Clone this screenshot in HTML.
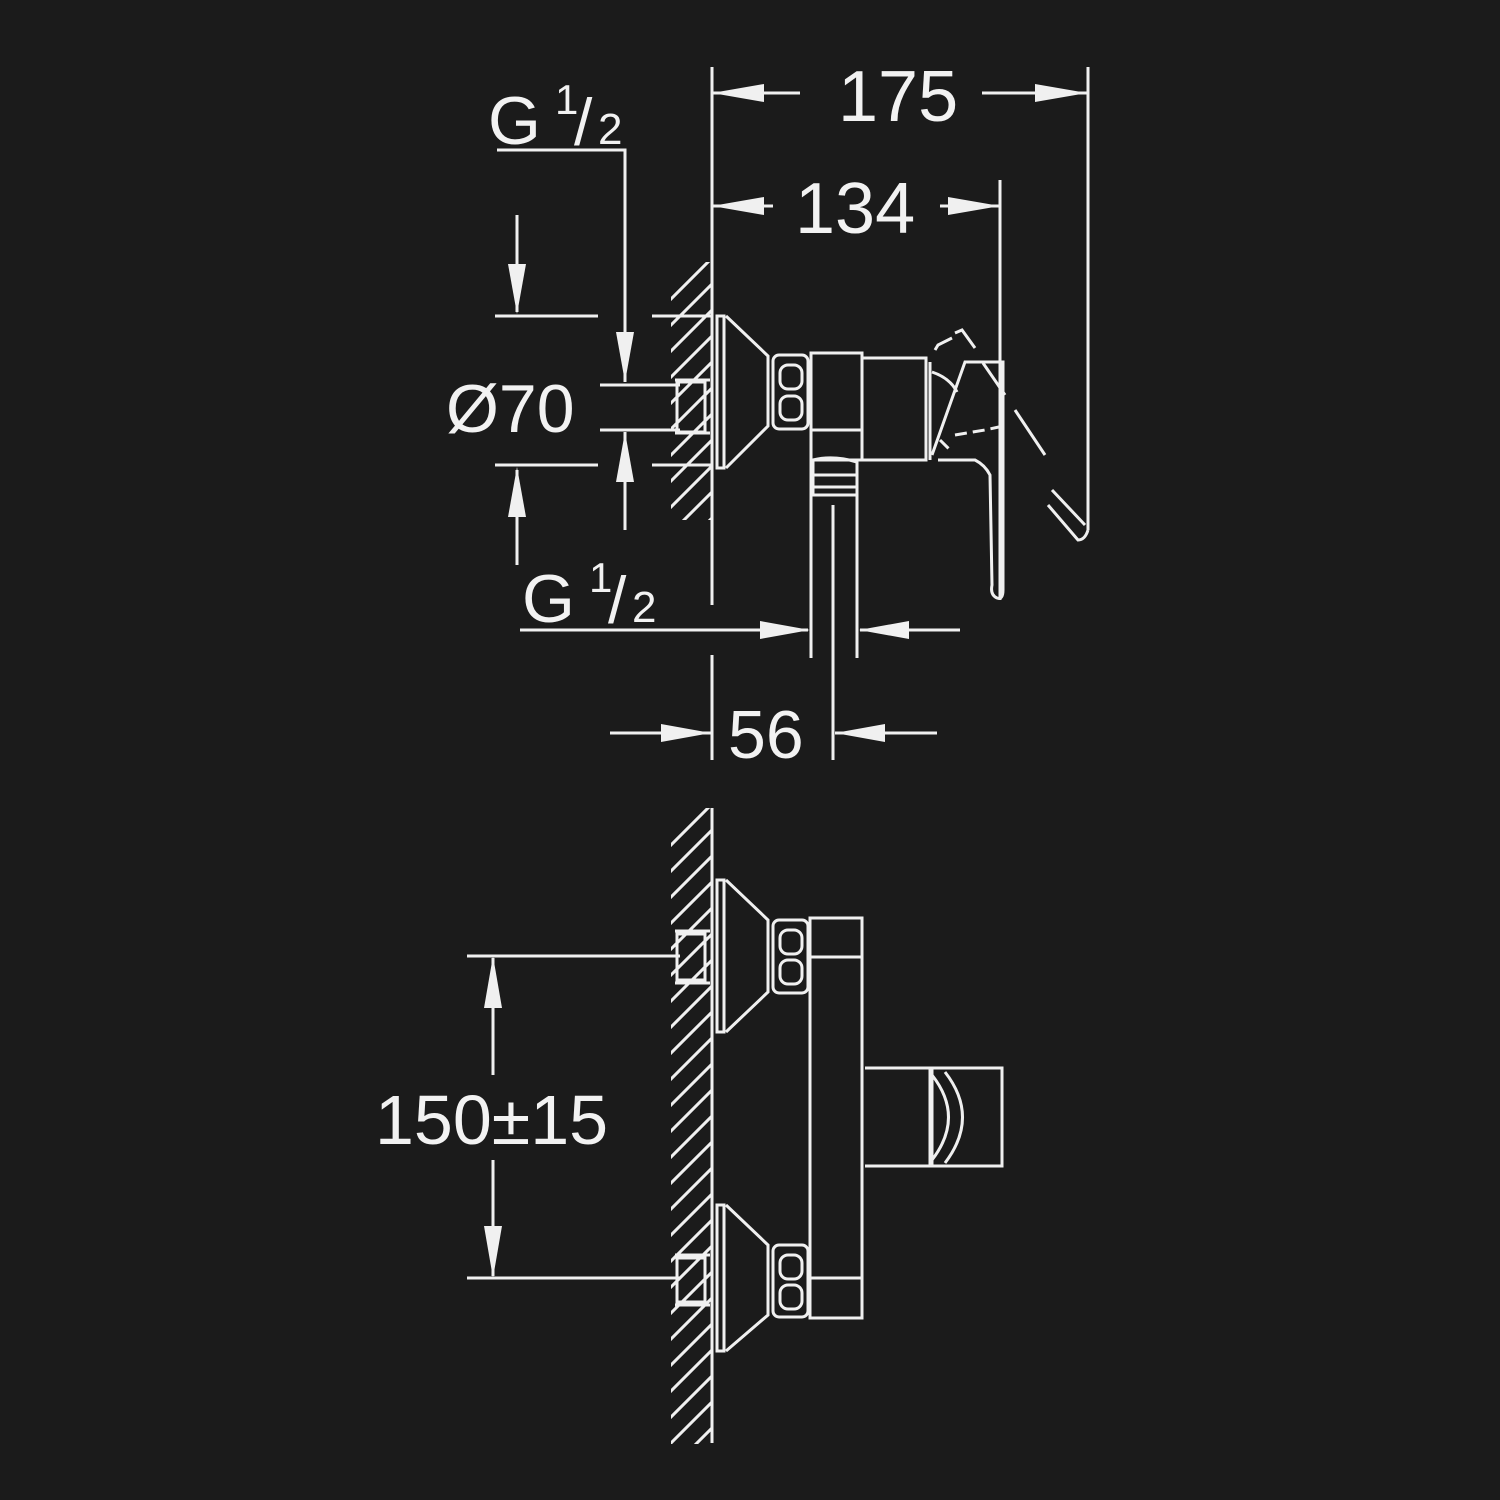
<!DOCTYPE html>
<html><head><meta charset="utf-8"><style>
html,body{margin:0;padding:0;background:#1b1b1b;}
svg{display:block}
text{font-family:"Liberation Sans",Arial,sans-serif;fill:#f2f2f2}
</style></head><body>
<svg width="1500" height="1500" viewBox="0 0 1500 1500" xmlns="http://www.w3.org/2000/svg">
<defs>
<clipPath id="h1"><rect x="671" y="262" width="40" height="258"/></clipPath>
<clipPath id="h2"><rect x="671" y="808" width="40" height="636"/></clipPath>
</defs>
<rect width="1500" height="1500" fill="#1b1b1b"/>
<g stroke="#f0f0f0" stroke-width="3" fill="none" stroke-linecap="butt">
<g clip-path="url(#h1)">
<path d="M660 310 L720 250 M660 336 L720 276 M660 362 L720 302 M660 388 L720 328 M660 414 L720 354 M660 440 L720 380 M660 466 L720 406 M660 492 L720 432 M660 518 L720 458 M660 544 L720 484 M660 570 L720 510"/>
</g>
<g clip-path="url(#h2)">
<path d="M660 856 L720 796 M660 882 L720 822 M660 908 L720 848 M660 934 L720 874 M660 960 L720 900 M660 986 L720 926 M660 1012 L720 952 M660 1038 L720 978 M660 1064 L720 1004 M660 1090 L720 1030 M660 1116 L720 1056 M660 1142 L720 1082 M660 1168 L720 1108 M660 1194 L720 1134 M660 1220 L720 1160 M660 1246 L720 1186 M660 1272 L720 1212 M660 1298 L720 1238 M660 1324 L720 1264 M660 1350 L720 1290 M660 1376 L720 1316 M660 1402 L720 1342 M660 1428 L720 1368 M660 1454 L720 1394 M660 1480 L720 1420"/>
</g>
<path d="M712 67 V605 M712 655 V760 M712 808 V1443"/>
<path d="M1088 67 V530 M1000 180 V600"/>
<path d="M712 93 H800 M982 93 H1087"/>
<path d="M712 206 H773 M940 206 H1000"/>
<path d="M497 150 H625 V382 M625 432 V530"/>
<path d="M495 316 H598 M652 316 H712 M495 465 H598 M652 465 H712 M600 385 H680 M600 430 H680"/>
<path d="M517 215 V312 M517 470 V565"/>
<path d="M520 630 H808 M860 630 H960"/>
<path d="M610 733 H712 M835 733 H937"/>
<path d="M833 505 V760"/>
<path d="M811 460 V658 M857 460 V658"/>

<rect x="677" y="382" width="28" height="50"/>
<path d="M675 380 H710 M675 433 H710"/>
<rect x="717" y="316" width="7" height="152"/>
<path d="M726 316 L768 356 L768 426 L726 468"/>
<rect x="773" y="355" width="35" height="74" rx="6"/>
<rect x="780" y="365" width="22" height="24" rx="8"/>
<rect x="780" y="396" width="22" height="24" rx="8"/>
<rect x="811" y="353" width="51" height="107"/>
<path d="M811 430 H862"/>
<path d="M862 358 H926 V460 H862 M930 362 V460"/>
<path d="M813 460 Q833 455 857 462 V495 H813 Z M813 475 H857 M813 487 H857"/>
<path d="M932 455 L965 362 H1003 V590 Q1003 600 997 598 Q990 595 992 585 L990 475 Q985 465 975 460 L938 460"/>
<path d="M983 363 L1005 395"/>
<path d="M932 372 Q950 378 957 392"/>
<path d="M935 350 L938 345 L952 338 M955 333 L962 330 L975 348" />
<path d="M940 440 L950 450 M955 435 L985 430 L1008 425" stroke-dasharray="12 6"/>
<path d="M1015 410 L1045 455 M1052 490 L1085 525 M1048 505 L1078 540 Q1085 540 1088 530"/>

<path d="M467 956 H680 M467 1278 H680 M493 1075 V958 M493 1160 V1276"/>
<rect x="677" y="934" width="28" height="46"/>
<path d="M675 931 H710 M675 983 H710"/>
<rect x="717" y="880" width="7" height="152"/>
<path d="M726 880 L768 920 L768 992 L726 1032"/>
<rect x="773" y="920" width="35" height="73" rx="6"/>
<rect x="780" y="930" width="22" height="24" rx="8"/>
<rect x="780" y="960" width="22" height="24" rx="8"/>
<rect x="717" y="1205" width="7" height="146"/>
<path d="M726 1205 L768 1245 L768 1315 L726 1351"/>
<rect x="773" y="1245" width="35" height="72" rx="6"/>
<rect x="780" y="1255" width="22" height="24" rx="8"/>
<rect x="780" y="1285" width="22" height="24" rx="8"/>
<rect x="677" y="1258" width="28" height="44"/>
<path d="M675 1255 H710 M675 1305 H710"/>
<rect x="810" y="918" width="52" height="400"/>
<path d="M810 957 H862 M810 1278 H862"/>
<path d="M865 1068 H930 V1166 H865"/>
<rect x="932" y="1068" width="70" height="98"/>
<path d="M932 1075 Q965 1117 932 1160"/>
<path d="M945 1072 Q980 1117 945 1163"/>
</g>

<g fill="#f0f0f0">
<polygon points="712,93 764,84 764,102"/>
<polygon points="1087,93 1035,84 1035,102"/>
<polygon points="712,206 764,197 764,215"/>
<polygon points="1000,206 948,197 948,215"/>
<polygon points="517,314 508,264 526,264"/>
<polygon points="517,467 508,517 526,517"/>
<polygon points="625,382 616,332 634,332"/>
<polygon points="625,432 616,482 634,482"/>
<polygon points="810,630 760,621 760,639"/>
<polygon points="859,630 909,621 909,639"/>
<polygon points="711,733 661,724 661,742"/>
<polygon points="835,733 885,724 885,742"/>
<polygon points="493,956 484,1008 502,1008"/>
<polygon points="493,1278 484,1226 502,1226"/>
</g>

<text x="838" y="121" font-size="72">175</text>
<text x="795" y="233" font-size="72">134</text>
<text x="488" y="144" font-size="68">G</text>
<text x="555" y="114" font-size="42">1</text>
<text x="574" y="145" font-size="66">/</text>
<text x="598" y="144" font-size="44">2</text>
<text x="446" y="432" font-size="68">Ø70</text>
<text x="522" y="622" font-size="68">G</text>
<text x="589" y="592" font-size="42">1</text>
<text x="608" y="623" font-size="66">/</text>
<text x="632" y="622" font-size="44">2</text>
<text x="728" y="758" font-size="68">56</text>
<text x="375" y="1144" font-size="70">150±15</text>
</svg>
</body></html>
